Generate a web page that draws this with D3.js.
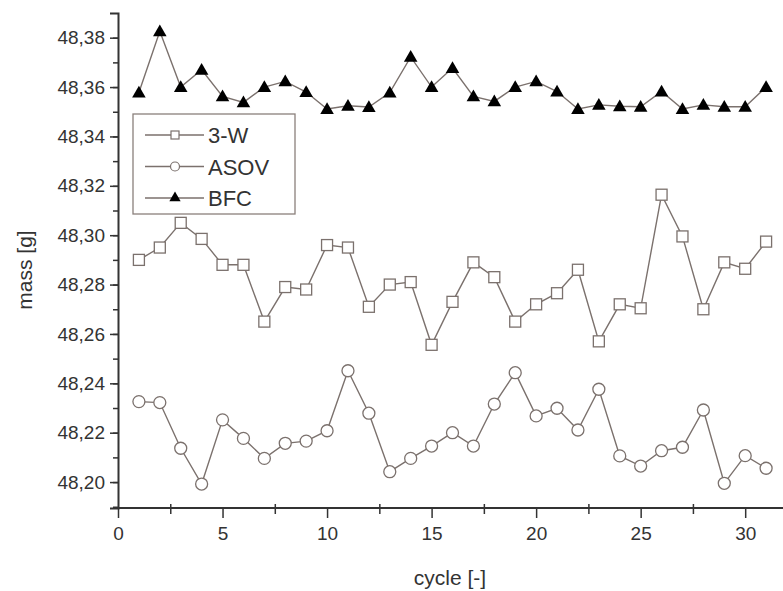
<!DOCTYPE html>
<html>
<head>
<meta charset="utf-8">
<script src="https://cdn.jsdelivr.net/npm/d3@7"></script>
<style>
  body { margin: 0; background: #fff; }
  svg { display: block; font-family: "Liberation Sans", Arial, sans-serif; }
</style>
</head>
<body>
<svg id="svg" width="783" height="591"></svg>
<script>
// Data
const cycles = d3.range(1, 32);
const w3 = [48.290, 48.295, 48.305, 48.2985, 48.288, 48.288, 48.265, 48.279, 48.278, 48.296,
            48.295, 48.271, 48.280, 48.281, 48.2556, 48.273, 48.289, 48.283, 48.265, 48.272,
            48.2765, 48.286, 48.257, 48.272, 48.2704, 48.3164, 48.2995, 48.270, 48.289, 48.2864, 48.2974];
const asov = [48.2326, 48.2322, 48.2137, 48.1992, 48.2252, 48.2177, 48.2096, 48.2157, 48.2166, 48.2208,
              48.2451, 48.2279, 48.2042, 48.2096, 48.2146, 48.220, 48.2146, 48.2316, 48.2443, 48.2268,
              48.2299, 48.2211, 48.2376, 48.2106, 48.2065, 48.2127, 48.2141, 48.2292, 48.1995, 48.2107, 48.2056];
const bfc = [48.3578, 48.3826, 48.360, 48.367, 48.3562, 48.3538, 48.360, 48.3623, 48.358, 48.3511,
             48.3524, 48.3519, 48.3578, 48.3722, 48.360, 48.3677, 48.3562, 48.3542, 48.360, 48.3623,
             48.3582, 48.3511, 48.3528, 48.3522, 48.352, 48.3582, 48.3511, 48.3528, 48.352, 48.352, 48.360];
const seriesNames = ["3-W", "ASOV", "BFC"];
const yTicks = [48.20, 48.22, 48.24, 48.26, 48.28, 48.30, 48.32, 48.34, 48.36, 48.38];
const xTicks = [0, 5, 10, 15, 20, 25, 30];

const svg = d3.select("#svg");
const lineColor = "#7b716d";
const axisColor = "#333";

const x = d3.scaleLinear().domain([0, 32]).range([118, 787]);
const y = d3.scaleLinear().domain([48.1895, 48.39]).range([508, 13]);

const fmt = d => d.toFixed(2).replace(".", ",");

// Y axis: minor ticks then major ticks with labels
svg.append("g")
    .attr("transform", `translate(${x(0)},0)`)
    .call(d3.axisLeft(y).tickValues(d3.range(48.19, 48.385, 0.01)).tickSize(5).tickFormat(""))
    .call(g => g.select(".domain").remove())
    .call(g => g.selectAll("line").attr("stroke", axisColor).attr("stroke-width", 1.5));

svg.append("g")
    .attr("transform", `translate(${x(0)},0)`)
    .call(d3.axisLeft(y).tickValues(yTicks).tickSize(8).tickPadding(5).tickFormat(fmt))
    .call(g => g.select(".domain").attr("stroke", axisColor).attr("stroke-width", 2))
    .call(g => g.selectAll("line").attr("stroke", axisColor).attr("stroke-width", 1.5))
    .call(g => g.selectAll("text").attr("fill", "#333").style("font-size", "19px")
        .style("font-family", "'Liberation Sans', Arial, sans-serif"));

// X axis (minor ticks cross the axis line slightly)
svg.append("g")
    .attr("transform", `translate(0,${y.range()[0]})`)
    .call(d3.axisBottom(x).tickValues(d3.range(2.5, 33, 5)).tickSize(6).tickFormat(""))
    .call(g => g.select(".domain").remove())
    .call(g => g.selectAll("line").attr("y1", -4).attr("stroke", axisColor).attr("stroke-width", 1.5));

svg.append("g")
    .attr("transform", `translate(0,${y.range()[0]})`)
    .call(d3.axisBottom(x).tickValues(xTicks).tickSize(10).tickPadding(9).tickFormat(d3.format("d")))
    .call(g => g.select(".domain").attr("stroke", axisColor).attr("stroke-width", 2).attr("d", `M${x(0)},0H${x(32)}`))
    .call(g => g.selectAll("line").attr("stroke", axisColor).attr("stroke-width", 1.5))
    .call(g => g.selectAll("text").attr("fill", "#333").style("font-size", "19px")
        .style("font-family", "'Liberation Sans', Arial, sans-serif"));

// Axis titles
svg.append("text")
    .attr("x", 450).attr("y", 585)
    .attr("text-anchor", "middle")
    .attr("fill", "#333")
    .style("font-size", "21px")
    .text("cycle [-]");

svg.append("text")
    .attr("transform", "translate(32,270) rotate(-90)")
    .attr("text-anchor", "middle")
    .attr("fill", "#333")
    .style("font-size", "21px")
    .text("mass [g]");

// Series
const line = d3.line().x((d, i) => x(cycles[i])).y(d => y(d));
const tri = d3.symbol().type(d3.symbolTriangle).size(80);

function drawMarker(sel, kind) {
    if (kind === 0) {
        sel.append("rect").attr("x", -5.5).attr("y", -5.5).attr("width", 11).attr("height", 11)
            .attr("fill", "#fff").attr("stroke", lineColor).attr("stroke-width", 1.3);
    } else if (kind === 1) {
        sel.append("circle").attr("r", 6)
            .attr("fill", "#fff").attr("stroke", lineColor).attr("stroke-width", 1.3);
    } else {
        sel.append("path").attr("d", tri).attr("transform", "translate(0,1)")
            .attr("fill", "#000");
    }
}

[w3, asov, bfc].forEach((vals, k) => {
    svg.append("path")
        .datum(vals)
        .attr("fill", "none")
        .attr("stroke", lineColor)
        .attr("stroke-width", 1.4)
        .attr("d", line);
    svg.append("g").selectAll("g")
        .data(vals)
        .join("g")
        .attr("transform", (d, i) => `translate(${x(cycles[i])},${y(d)})`)
        .each(function () { drawMarker(d3.select(this), k); });
});

// Legend
const legend = svg.append("g");
legend.append("rect")
    .attr("x", 133).attr("y", 114).attr("width", 162).attr("height", 100)
    .attr("fill", "#fff").attr("stroke", "#8a807c").attr("stroke-width", 1.3);

seriesNames.forEach((name, k) => {
    const ly = 135 + k * 31.5;
    legend.append("line")
        .attr("x1", 145).attr("x2", 204).attr("y1", ly).attr("y2", ly)
        .attr("stroke", lineColor).attr("stroke-width", 1.3);
    const m = legend.append("g").attr("transform", `translate(175,${ly})`);
    if (k === 0) {
        m.append("rect").attr("x", -4).attr("y", -4).attr("width", 8).attr("height", 8)
            .attr("fill", "#fff").attr("stroke", lineColor).attr("stroke-width", 1.2);
    } else if (k === 1) {
        m.append("circle").attr("r", 4.5).attr("fill", "#fff").attr("stroke", lineColor).attr("stroke-width", 1.2);
    } else {
        m.append("path").attr("d", d3.symbol().type(d3.symbolTriangle).size(55)).attr("fill", "#000");
    }
    legend.append("text")
        .attr("x", 208).attr("y", ly + 8)
        .attr("fill", "#333")
        .style("font-size", "22px")
        .text(name);
});
</script>
</body>
</html>
